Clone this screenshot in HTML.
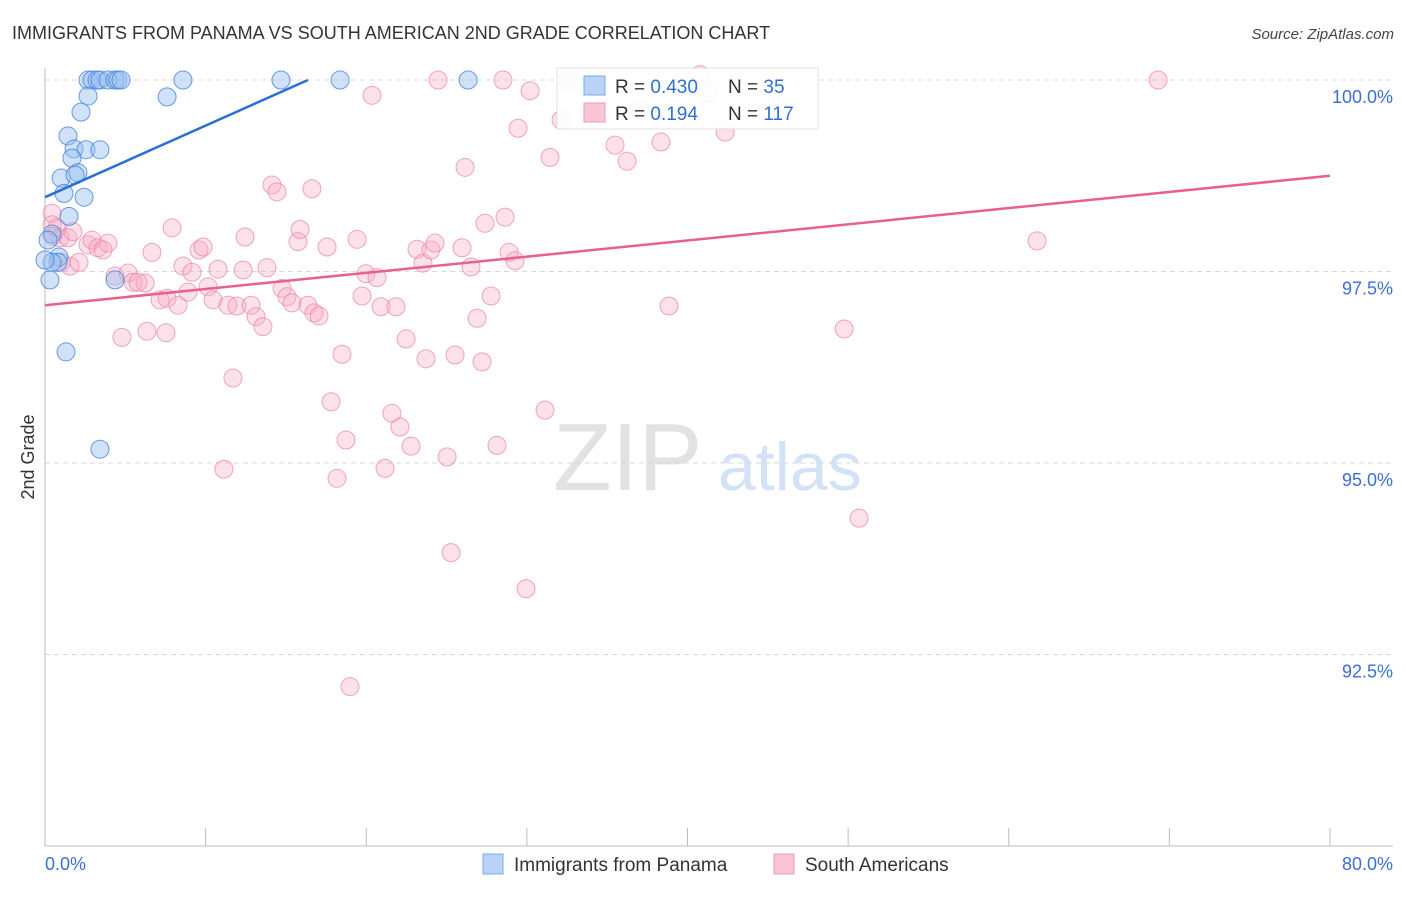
<!DOCTYPE html>
<html><head><meta charset="utf-8"><style>
body{margin:0;background:#fff;font-family:"Liberation Sans",sans-serif;}
svg text{font-family:"Liberation Sans",sans-serif;}
</style></head><body>
<svg width="1406" height="892" viewBox="0 0 1406 892" xmlns="http://www.w3.org/2000/svg">
<text x="12" y="39" font-size="18" fill="#333">IMMIGRANTS FROM PANAMA VS SOUTH AMERICAN 2ND GRADE CORRELATION CHART</text>
<text x="1394" y="39" font-size="15" font-style="italic" fill="#444" text-anchor="end">Source: ZipAtlas.com</text>
<text x="553" y="490" font-size="96" font-family="Liberation Serif" fill="#e2e2e2">ZIP</text>
<text x="718" y="490" font-size="68" fill="#d4e2f5">atlas</text>
<g id="grid"></g>
<g id="axes"></g>
<g id="pts"></g>
<g id="lines"></g>
<text x="34" y="457" font-size="18" fill="#333" text-anchor="middle" transform="rotate(-90 34 457)">2nd Grade</text>
<text x="45" y="870" font-size="18" fill="#3a6fd8">0.0%</text>
<text x="1393" y="870" font-size="18" fill="#3a6fd8" text-anchor="end">80.0%</text>
<g>
<rect x="557" y="68" width="261" height="61" fill="#fff" stroke="#ddd" opacity="0.9"/>
<rect x="584" y="76" width="21" height="19" fill="#b8d3f5" stroke="#7aa8e8"/>
<rect x="584" y="103" width="21" height="19" fill="#fac6d6" stroke="#ee9ab5"/>
<text x="615" y="93" font-size="19" fill="#333">R = <tspan fill="#2f6ed6">0.430</tspan></text>
<text x="728" y="93" font-size="19" fill="#333">N = <tspan fill="#2f6ed6"> 35</tspan></text>
<text x="615" y="120" font-size="19" fill="#333">R = <tspan fill="#2f6ed6"> 0.194</tspan></text>
<text x="728" y="120" font-size="19" fill="#333">N = <tspan fill="#2f6ed6">117</tspan></text>
</g>
<g>
<rect x="483" y="854" width="20" height="20" fill="#b8d3f5" stroke="#7aa8e8"/>
<text x="514" y="871" font-size="19" fill="#333">Immigrants from Panama</text>
<rect x="774" y="854" width="20" height="20" fill="#fac6d6" stroke="#ee9ab5"/>
<text x="805" y="871" font-size="19" fill="#333">South Americans</text>
</g>
</svg>
<script>
const yTicks=[100,97.5,95,92.5];
const yTickLabels=["100.0%","97.5%","95.0%","92.5%"];
const xTicks=[0,10,20,30,40,50,60,70,80];
const blueX=[2.68,2.93,3.24,3.42,3.92,4.36,4.54,4.73,8.59,14.69,18.37,26.34,2.68,7.60,2.24,1.43,1.81,2.55,3.42,1.68,2.05,1.00,1.87,1.18,2.43,1.49,0.44,0.19,0.87,0.81,0.44,0,4.36,0.31,1.31,3.42];
const blueY=[100,100,100,100,100,100,100,100,100,100,100,100,99.79,99.78,99.58,99.27,99.10,99.09,99.09,98.98,98.79,98.72,98.76,98.52,98.47,98.22,97.99,97.91,97.69,97.62,97.62,97.65,97.39,97.39,96.45,95.18];
const pinkX=[0.44,0.44,0.75,0.50,0.93,1.43,1.74,2.68,2.93,3.30,3.92,3.61,1.56,2.12,1.00,4.36,5.17,5.48,6.23,5.79,4.79,6.35,7.53,7.16,7.60,8.28,7.91,6.66,8.59,8.90,9.15,9.59,9.84,10.15,10.46,10.77,11.39,11.70,11.95,12.33,12.45,12.83,13.14,13.57,13.82,11.14,14.13,14.44,14.76,15.07,15.38,15.75,15.88,16.37,16.75,17.06,16.62,17.56,17.81,18.18,18.49,18.74,18.99,19.43,19.74,19.98,20.36,20.67,20.92,21.17,21.60,21.85,22.10,22.48,22.79,23.16,23.53,23.72,24.03,24.28,24.47,25.03,25.28,25.53,25.96,26.15,26.52,26.90,27.21,27.39,27.77,28.14,28.51,28.64,28.89,29.26,29.45,29.95,30.20,31.13,31.44,32.13,32.56,35.49,36.24,37.05,38.35,38.85,40.78,41.28,42.34,49.75,50.68,61.76,69.30];
const pinkY=[98.26,98.11,98.07,97.96,97.94,97.94,98.02,97.85,97.91,97.81,97.87,97.78,97.57,97.62,97.62,97.44,97.48,97.36,97.35,97.36,96.64,96.72,96.70,97.13,97.15,97.06,98.07,97.75,97.57,97.23,97.49,97.78,97.82,97.30,97.13,97.53,97.06,96.11,97.05,97.52,97.95,97.06,96.91,96.78,97.55,94.92,98.63,98.54,97.28,97.17,97.09,97.89,98.05,97.06,96.96,96.92,98.58,97.82,95.80,94.80,96.42,95.30,92.08,97.92,97.18,97.47,99.80,97.42,97.04,94.93,95.65,97.04,95.47,96.62,95.22,97.79,97.61,96.36,97.78,97.87,100,95.08,93.83,96.41,97.81,98.86,97.56,96.89,96.32,98.13,97.18,95.23,100,98.21,97.75,97.64,99.37,93.36,99.86,95.69,98.99,99.48,100,99.15,98.94,99.61,99.19,97.05,100.07,99.82,99.32,96.75,94.28,97.90,100];
const blueLine=[[0,98.47],[16.37,100]];
const pinkLine=[[0,97.06],[80,98.75]];
const X0=45,X1=1330,Y100=80,PXPER=76.6;
const sx=v=>X0+(X1-X0)*v/80;
const sy=v=>Y100+(100-v)*PXPER;
const NS="http://www.w3.org/2000/svg";
function mk(t,a,p){const e=document.createElementNS(NS,t);for(const k in a)e.setAttribute(k,a[k]);p.appendChild(e);return e;}
const grid=document.getElementById('grid'),axes=document.getElementById('axes'),pts=document.getElementById('pts'),lines=document.getElementById('lines');
yTicks.forEach((t,i)=>{
 const g=mk('line',{x1:X0,x2:1393,y1:sy(t),y2:sy(t),stroke:'#d8d8d8','stroke-dasharray':'5,4'},grid);
 
 
 const tx=mk('text',{x:1393,y:sy(t)+23,'font-size':18,fill:'#3a6fd8','text-anchor':'end'},grid);
 tx.textContent=yTickLabels[i];
 
 
});
const ya=mk('line',{x1:X0,x2:X0,y1:68,y2:846,stroke:'#bbb'},axes);


const xa=mk('line',{x1:X0,x2:1393,y1:846,y2:846,stroke:'#bbb'},axes);


xTicks.forEach(t=>{
 const l=mk('line',{x1:sx(t),x2:sx(t),y1:828,y2:846,stroke:'#bbb'},axes);
 
 
});
pinkX.forEach((x,i)=>{
 const c=mk('circle',{cx:sx(x),cy:sy(pinkY[i]),r:9,fill:'rgba(248,170,195,0.35)',stroke:'rgba(232,130,165,0.7)','stroke-width':1},pts);
 
 
});
blueX.forEach((x,i)=>{
 const c=mk('circle',{cx:sx(x),cy:sy(blueY[i]),r:9,fill:'rgba(150,190,240,0.45)',stroke:'rgba(70,130,220,0.8)','stroke-width':1},pts);
 
 
});
const bl=mk('line',{x1:sx(blueLine[0][0]),y1:sy(blueLine[0][1]),x2:sx(blueLine[1][0]),y2:sy(blueLine[1][1]),stroke:'#2a6fd6','stroke-width':2.5},lines);


const pl=mk('line',{x1:sx(pinkLine[0][0]),y1:sy(pinkLine[0][1]),x2:sx(pinkLine[1][0]),y2:sy(pinkLine[1][1]),stroke:'#e8608c','stroke-width':2.5},lines);


</script>
</body></html>
